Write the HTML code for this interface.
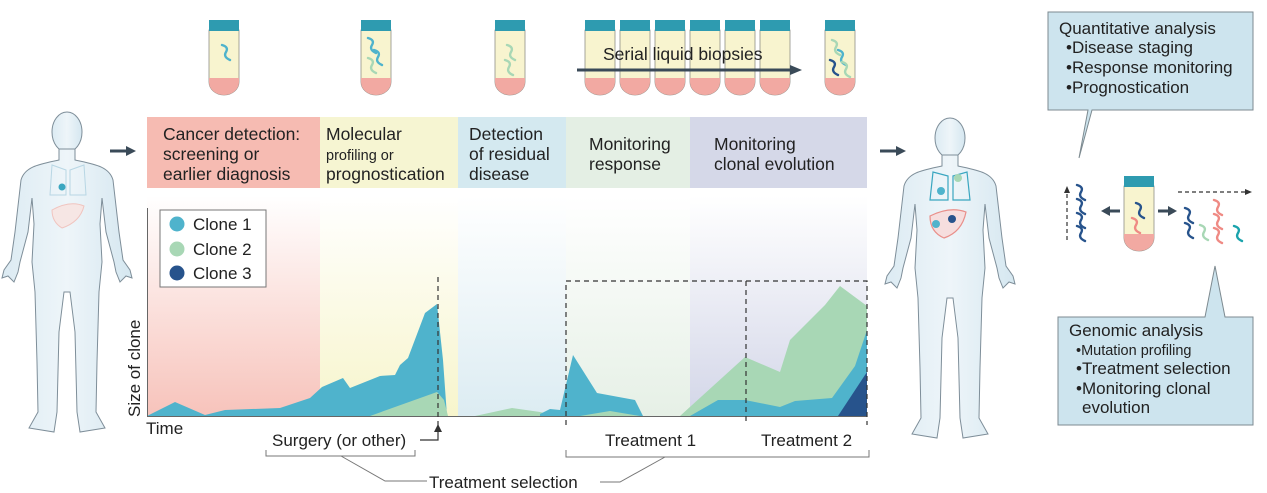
<!DOCTYPE html>
<html><head><meta charset="utf-8"><style>
html,body{margin:0;padding:0;background:#fff;}
svg{display:block;font-family:"Liberation Sans",sans-serif;}
</style></head><body>
<svg width="1267" height="493" viewBox="0 0 1267 493" xmlns="http://www.w3.org/2000/svg">
<defs>
<linearGradient id="gr" x1="0" y1="0" x2="0" y2="1"><stop offset="0" stop-color="#fff"/><stop offset="1" stop-color="#f7c3bb"/></linearGradient>
<linearGradient id="gy" x1="0" y1="0" x2="0" y2="1"><stop offset="0" stop-color="#fff"/><stop offset="1" stop-color="#f7f5cc"/></linearGradient>
<linearGradient id="gb" x1="0" y1="0" x2="0" y2="1"><stop offset="0" stop-color="#fff"/><stop offset="1" stop-color="#dcecf2"/></linearGradient>
<linearGradient id="gg" x1="0" y1="0" x2="0" y2="1"><stop offset="0" stop-color="#fff"/><stop offset="1" stop-color="#e6f0e6"/></linearGradient>
<linearGradient id="gl" x1="0" y1="0" x2="0" y2="1"><stop offset="0" stop-color="#fff"/><stop offset="1" stop-color="#d3d6e8"/></linearGradient>
<linearGradient id="gbody" x1="0" y1="0" x2="1" y2="0"><stop offset="0" stop-color="#dcebf3"/><stop offset="0.5" stop-color="#eef5f9"/><stop offset="1" stop-color="#d5e7f0"/></linearGradient>
<g id="body">
<ellipse cx="0" cy="20" rx="15" ry="20" fill="url(#gbody)" stroke="#7e8e99" stroke-width="1"/>
<path d="M-8 37 L-8 48 C-26 52 -42 54 -46 68 L-52 120 L-56 148 L-63 158 L-65 166 L-59 164 L-53 170 L-49 160 L-47 150 L-39 120 L-35 86 L-33 112 L-35 150 L-32 180 L-30 250 L-29 300 L-38 316 L-13 320 L-10 300 L-8 220 L-3 180 L3 180 L8 220 L10 300 L13 320 L38 316 L29 300 L30 250 L32 180 L35 150 L33 112 L35 86 L39 120 L47 150 L49 160 L53 170 L59 164 L65 166 L63 158 L56 148 L52 120 L46 68 C42 54 26 52 8 48 L8 37 Z" fill="url(#gbody)" stroke="#7e8e99" stroke-width="1"/>
</g>
<g id="tube">
<path d="M0 10 L0 62 A15 13 0 0 0 30 62 L30 10 Z" fill="#f8f4cf" stroke="#8f8f88" stroke-width="0.8"/>
<path d="M0 62 A15 13 0 0 0 30 62 L30 58 L0 58 Z" fill="#f2a9a2"/>
<rect x="0" y="0" width="30" height="11" fill="#2e9bb0"/>
</g>
<path id="sq" d="M0 0 q7 2 4 7 q-3 5 4 8" fill="none" stroke-width="2.4" stroke-linecap="round"/>
</defs>

<rect x="147" y="117" width="173" height="71" fill="#f6bbb2"/>
<rect x="320" y="117" width="138" height="71" fill="#f6f5d2"/>
<rect x="458" y="117" width="108" height="71" fill="#d4e9f0"/>
<rect x="566" y="117" width="124" height="71" fill="#e4efe4"/>
<rect x="690" y="117" width="177" height="71" fill="#d5d8e8"/>
<g font-size="17.5" fill="#222">
<text x="163" y="140">Cancer detection:</text>
<text x="163" y="160">screening or</text>
<text x="163" y="180">earlier diagnosis</text>
<text x="326" y="140">Molecular</text>
<text x="326" y="160" font-size="14.5">profiling or</text>
<text x="326" y="180">prognostication</text>
<text x="469" y="140">Detection</text>
<text x="469" y="160">of residual</text>
<text x="469" y="180">disease</text>
<text x="589" y="150">Monitoring</text>
<text x="589" y="170">response</text>
<text x="714" y="150">Monitoring</text>
<text x="714" y="170">clonal evolution</text>
</g>

<rect x="147" y="196" width="173" height="220" fill="url(#gr)"/>
<rect x="320" y="196" width="138" height="220" fill="url(#gy)"/>
<rect x="458" y="196" width="108" height="220" fill="url(#gb)"/>
<rect x="566" y="196" width="124" height="220" fill="url(#gg)"/>
<rect x="690" y="196" width="177" height="220" fill="url(#gl)"/>

<path d="M147 416 L175 402 L205 415 L225 410 L280 408 L310 398 L322 387 L343 378 L350 388 L380 376 L395 375 L400 365 L408 358 L425 313 L437 304 L443 360 L447 416 Z" fill="#4fb3cc"/>
<path d="M370 416 L437 392 L444 400 L448 416 Z" fill="#a8d7b5"/>
<path d="M475 416 L512 408 L540 412 L556 416 Z" fill="#a8d7b5"/>
<path d="M540 414 L550 409 L560 410 L573 355 L597 393 L635 400 L643 416 L540 416 Z" fill="#4fb3cc"/>
<path d="M580 416 L610 411 L640 416 Z" fill="#a8d7b5"/>
<path d="M680 416 L745 357 L780 372 L790 340 L825 305 L840 286 L867 306 L867 416 Z" fill="#a8d7b5"/>
<path d="M690 416 L718 400 L745 400 L780 407 L795 401 L832 398 L855 366 L867 330 L867 416 Z" fill="#4fb3cc"/>
<path d="M838 416 L867 372 L867 416 Z" fill="#27538c"/>

<line x1="147.5" y1="208" x2="147.5" y2="416" stroke="#666" stroke-width="1"/>
<line x1="147" y1="416.5" x2="867" y2="416.5" stroke="#666" stroke-width="1"/>

<g stroke="#333" stroke-width="1.2" stroke-dasharray="5,4" fill="none">
<path d="M566 425 L566 281 L867 281 L867 425"/>
<line x1="746" y1="281" x2="746" y2="425"/>
<line x1="438" y1="277" x2="438" y2="432"/>
</g>
<path d="M420 440 L438 440 L438 431" fill="none" stroke="#333" stroke-width="1.2"/>
<path d="M434 432 L438 424 L442 432 Z" fill="#333"/>

<rect x="160" y="210" width="106" height="77" fill="#fff" stroke="#777" stroke-width="1"/>
<circle cx="177" cy="224" r="7.5" fill="#4fb3cc"/>
<circle cx="177" cy="249" r="7.5" fill="#a8d7b5"/>
<circle cx="177" cy="273" r="7.5" fill="#27538c"/>
<g font-size="17" fill="#222">
<text x="193" y="230">Clone 1</text>
<text x="193" y="255">Clone 2</text>
<text x="193" y="279">Clone 3</text>
<text x="0" y="0" transform="translate(140,417) rotate(-90)">Size of clone</text>
<text x="146" y="434">Time</text>
<text x="272" y="446">Surgery (or other)</text>
<text x="605" y="446">Treatment 1</text>
<text x="761" y="446">Treatment 2</text>
<text x="429" y="488">Treatment selection</text>
</g>
<g stroke="#777" stroke-width="1" fill="none">
<path d="M266 450 L266 456 L415 456 L415 450"/>
<path d="M341 456 L385 481 L427 481"/>
<path d="M566 450 L566 457 L869 457 L869 450"/>
<path d="M665 457 L620 482 L600 482"/>
</g>

<use href="#tube" x="209" y="20"/>
<use href="#tube" x="361" y="20"/>
<use href="#tube" x="495" y="20"/>
<use href="#tube" x="585" y="20"/>
<use href="#tube" x="620" y="20"/>
<use href="#tube" x="655" y="20"/>
<use href="#tube" x="690" y="20"/>
<use href="#tube" x="725" y="20"/>
<use href="#tube" x="760" y="20"/>
<use href="#tube" x="825" y="20"/>
<use href="#sq" x="222" y="45" stroke="#4fb3cc"/>
<use href="#sq" x="368" y="38" stroke="#4fb3cc"/><use href="#sq" x="374" y="50" stroke="#4fb3cc"/><use href="#sq" x="368" y="58" stroke="#a8d7b5"/>
<use href="#sq" x="507" y="45" stroke="#a8d7b5"/><use href="#sq" x="505" y="60" stroke="#a8d7b5"/>
<use href="#sq" x="832" y="40" stroke="#a8d7b5"/><use href="#sq" x="838" y="50" stroke="#4fb3cc"/><use href="#sq" x="830" y="60" stroke="#27538c"/><use href="#sq" x="842" y="62" stroke="#a8d7b5"/>
<text x="603" y="60" font-size="17.5" fill="#222">Serial liquid biopsies</text>
<line x1="577" y1="70" x2="792" y2="70" stroke="#3a4a58" stroke-width="3"/>
<path d="M790 65 L802 70 L790 75 Z" fill="#3a4a58"/>

<use href="#body" x="67" y="112"/>
<use href="#body" x="950" y="118"/>
<path d="M52 165 L50 195 L66 195 L66 170 Z M70 170 L70 195 L86 195 L84 165 Z" fill="none" stroke="#b8d6e4" stroke-width="1"/>
<circle cx="62" cy="187" r="3.5" fill="#3aa6c0"/>
<path d="M52 210 Q70 200 84 206 Q80 222 62 228 Q52 222 52 210 Z" fill="#f6e6e4" stroke="#f0c4bf" stroke-width="1"/>
<path d="M933 172 L930 200 L948 200 L948 176 Z M953 176 L953 200 L970 200 L967 172 Z" fill="none" stroke="#3aa6c0" stroke-width="1.2"/>
<circle cx="941" cy="191" r="4" fill="#4fb3cc"/>
<circle cx="958" cy="178" r="4" fill="#a8d7b5"/>
<path d="M930 216 Q950 206 966 212 Q962 232 944 238 Q930 232 930 216 Z" fill="#f6dede" stroke="#e98f8a" stroke-width="1.2"/>
<circle cx="936" cy="224" r="4" fill="#4fb3cc"/>
<circle cx="952" cy="219" r="4" fill="#27538c"/>
<line x1="110" y1="151" x2="128" y2="151" stroke="#3a4a58" stroke-width="3"/><path d="M126 146 L136 151 L126 156 Z" fill="#3a4a58"/>
<line x1="880" y1="151" x2="898" y2="151" stroke="#3a4a58" stroke-width="3"/><path d="M896 146 L906 151 L896 156 Z" fill="#3a4a58"/>

<path d="M1048 12 L1253 12 L1253 110 L1092 110 L1079 158 L1088 110 L1048 110 Z" fill="#cde4ee" stroke="#7d8a90" stroke-width="1"/>
<g font-size="17" fill="#222">
<text x="1059" y="34">Quantitative analysis</text>
<text x="1066" y="53">•Disease staging</text>
<text x="1066" y="73">•Response monitoring</text>
<text x="1066" y="93">•Prognostication</text>
</g>
<path d="M1058 317 L1205 317 L1215 266 L1225 317 L1253 317 L1253 425 L1058 425 Z" fill="#cde4ee" stroke="#7d8a90" stroke-width="1"/>
<g font-size="17" fill="#222">
<text x="1069" y="336">Genomic analysis</text>
<text x="1076" y="355" font-size="14.5">•Mutation profiling</text>
<text x="1076" y="374">•Treatment selection</text>
<text x="1076" y="394">•Monitoring clonal</text>
<text x="1082" y="413">evolution</text>
</g>
<use href="#tube" x="1124" y="176"/>
<use href="#sq" x="1136" y="203" stroke="#27538c"/><use href="#sq" x="1132" y="218" stroke="#ef8a84"/>
<line x1="1067" y1="240" x2="1067" y2="192" stroke="#333" stroke-width="1.2" stroke-dasharray="4,3"/>
<path d="M1064 193 L1067 186 L1070 193 Z" fill="#333"/>
<use href="#sq" x="1077" y="185" stroke="#27538c"/><use href="#sq" x="1077" y="199" stroke="#27538c"/><use href="#sq" x="1077" y="213" stroke="#27538c"/><use href="#sq" x="1077" y="226" stroke="#27538c"/>
<line x1="1120" y1="211" x2="1108" y2="211" stroke="#3a4a58" stroke-width="3"/><path d="M1110 206 L1101 211 L1110 216 Z" fill="#3a4a58"/>
<line x1="1158" y1="211" x2="1170" y2="211" stroke="#3a4a58" stroke-width="3"/><path d="M1168 206 L1177 211 L1168 216 Z" fill="#3a4a58"/>
<line x1="1178" y1="192" x2="1246" y2="192" stroke="#333" stroke-width="1.2" stroke-dasharray="4,3"/>
<path d="M1245 189 L1252 192 L1245 195 Z" fill="#333"/>
<use href="#sq" x="1185" y="208" stroke="#27538c"/><use href="#sq" x="1185" y="223" stroke="#27538c"/>
<use href="#sq" x="1200" y="225" stroke="#a8d7b5"/>
<use href="#sq" x="1214" y="200" stroke="#ef8a84"/><use href="#sq" x="1214" y="214" stroke="#ef8a84"/><use href="#sq" x="1214" y="228" stroke="#ef8a84"/>
<use href="#sq" x="1234" y="226" stroke="#1aa3ac"/>
</svg>
</body></html>
